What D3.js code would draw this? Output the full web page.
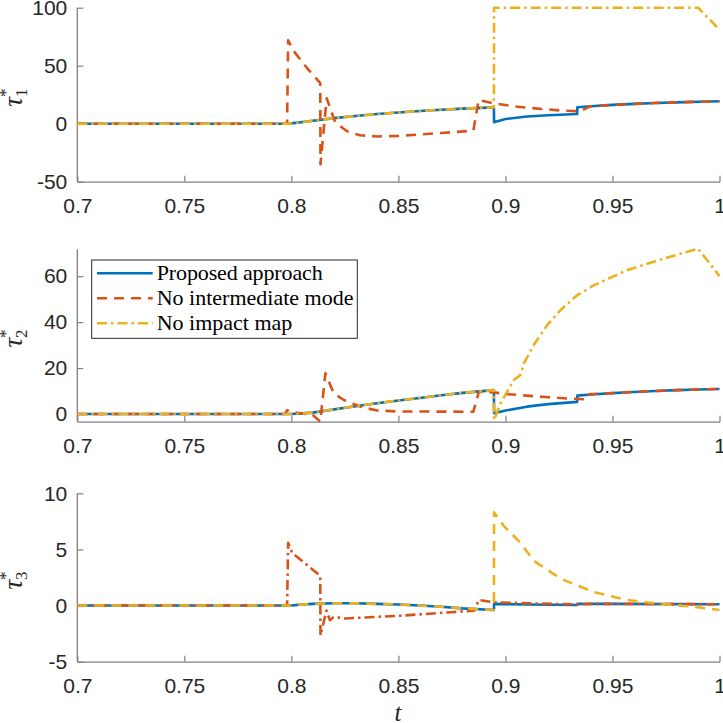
<!DOCTYPE html>
<html>
<head>
<meta charset="utf-8">
<script src="https://cdn.jsdelivr.net/npm/d3@7"></script>
<style>
  html, body { margin: 0; padding: 0; background: #fff; }
  svg { display: block; }
  .tick text { font-family: "Liberation Sans", Arial, sans-serif; font-size: 21px; fill: #262626; }
</style>
</head>
<body>
<svg width="723" height="723"></svg>
<script>
// x ticks shared by all three panels
const xTicks = [0.7, 0.75, 0.8, 0.85, 0.9, 0.95, 1];
const seriesNames = ["Proposed approach", "No intermediate mode", "No impact map"];

// panel 1: tau_1*
const prop1 = [[0.7,0],[0.798,0],[0.80,0.3],[0.81,2.6],[0.82,4.8],[0.83,6.7],[0.84,8.3],[0.85,9.7],[0.86,10.9],[0.87,12],[0.88,13],[0.8946,14.1],
  [0.8947,1.2],[0.90,4],[0.91,6.2],[0.92,7.3],[0.9335,8.4],[0.9336,14.2],[0.94,15],[0.95,16.2],[0.96,17.1],[0.97,17.8],[0.98,18.4],[0.99,18.9],[1.0,19.3]];
const noInter1 = [[0.7,0],[0.798,0],[0.7985,72],[0.8005,64],[0.8073,48],[0.8135,35],[0.8136,-35],[0.8165,22],[0.8205,1],[0.826,-6.5],[0.832,-10],[0.84,-11],
  [0.85,-10.5],[0.86,-9.3],[0.87,-8],[0.885,-6],[0.8875,20.5],[0.8946,17.5],[0.904,15],[0.915,13],[0.925,11.5],[0.935,10.7],[0.9395,15],[0.95,16.2],
  [0.96,17.1],[0.97,17.8],[0.98,18.4],[0.99,18.9],[1.0,19.3]];
const noImpact1 = [[0.7,0],[0.798,0],[0.80,0.3],[0.81,2.6],[0.82,4.8],[0.83,6.7],[0.84,8.3],[0.85,9.7],[0.86,10.9],[0.87,12],[0.88,13],[0.8946,14.1],
  [0.8947,100],[0.99,100],[1.0,81]];

// panel 2: tau_2*
const prop2 = [[0.7,0],[0.8,0],[0.81,0.6],[0.82,2],[0.83,3.4],[0.84,4.7],[0.85,5.9],[0.86,7],[0.87,8.2],[0.88,9.2],[0.8946,10.4],
  [0.8947,0.3],[0.90,1.5],[0.91,3.2],[0.92,4.3],[0.9335,5.3],[0.9336,8],[0.94,8.5],[0.95,9.1],[0.96,9.6],[0.97,10],[0.98,10.4],[0.99,10.7],[1.0,10.9]];
const noInter2 = [[0.7,0],[0.797,0],[0.798,1.7],[0.80,1],[0.805,0.2],[0.81,-0.4],[0.8135,-3.3],[0.8159,17.7],[0.8198,9],[0.8245,6.1],[0.8322,3.2],[0.84,1.5],
  [0.85,1.1],[0.885,1],[0.8876,9.7],[0.8946,9.4],[0.90,8.7],[0.91,8],[0.92,7.3],[0.93,6.7],[0.938,6.4],[0.939,8.6],[0.95,9.1],[0.96,9.6],[0.97,10],
  [0.98,10.4],[0.99,10.7],[1.0,10.9]];
const noImpact2 = [[0.7,0],[0.8,0],[0.81,0.6],[0.82,2],[0.83,3.4],[0.84,4.7],[0.85,5.9],[0.86,7],[0.87,8.2],[0.88,9.2],[0.8946,10.4],
  [0.8947,-2.6],[0.8977,4.6],[0.9039,14.8],[0.907,17],[0.9086,22],[0.9132,30],[0.9195,38.7],[0.9257,45.2],[0.9335,51.7],[0.9413,56],[0.9568,62.6],
  [0.9724,67.2],[0.99,72],[1.0,60]];

// panel 3: tau_3*
const prop3 = [[0.7,0],[0.8,0],[0.805,0.1],[0.81,0.15],[0.82,0.2],[0.83,0.2],[0.84,0.15],[0.85,0.1],[0.86,0],[0.87,-0.1],[0.88,-0.25],[0.8946,-0.4],
  [0.8947,0.15],[0.91,0.1],[0.9335,0.05],[0.9336,0.15],[0.95,0.15],[1.0,0.12]];
const noInter3 = [[0.7,0],[0.798,0],[0.7985,5.6],[0.8003,4.7],[0.8135,2.65],[0.8136,-2.65],[0.8164,-0.45],[0.818,-1.3],[0.8198,-1],[0.825,-1.15],
  [0.851,-0.9],[0.8853,-0.45],[0.8876,0.5],[0.8946,0.3],[0.91,0.2],[0.935,0.1],[0.94,0.15],[1.0,0.12]];
const noImpact3 = [[0.7,0],[0.8,0],[0.805,0.1],[0.81,0.15],[0.82,0.2],[0.83,0.2],[0.84,0.15],[0.85,0.1],[0.86,0],[0.87,-0.1],[0.88,-0.25],[0.8946,-0.4],
  [0.8947,8.3],[0.8992,7.1],[0.907,5.6],[0.9132,4],[0.9257,2.4],[0.9413,1.2],[0.9568,0.5],[0.9724,0.15],[0.988,-0.1],[1.0,-0.4]];

const yTicks1 = [-50, 0, 50, 100];
const yTicks2 = [0, 20, 40, 60];
const yTicks3 = [-5, 0, 5, 10];

const colors = ["#0072BD", "#D95319", "#EDB120"];
const dashes = { solid: null, dash: "10,7", dashdot: "10,4,2.5,4" };

const panels = [
  { top: 7.7, bottom: 181.7, domain: [-50, 100], ticks: yTicks1, sub: "1",
    lines: [[prop1, "solid"], [noInter1, "dash"], [noImpact1, "dashdot"]] },
  { top: 249.3, bottom: 421.7, domain: [-3.35, 71.7], ticks: yTicks2, sub: "2",
    lines: [[prop2, "solid"], [noInter2, "dash"], [noImpact2, "dashdot"]] },
  { top: 493.3, bottom: 661.7, domain: [-5, 10], ticks: yTicks3, sub: "3",
    lines: [[prop3, "solid"], [noInter3, "dashdot"], [noImpact3, "dash"]] }
];

const svg = d3.select("svg");
const x = d3.scaleLinear().domain([0.7, 1]).range([77.3, 719.5]);

panels.forEach((p, i) => {
  const y = d3.scaleLinear().domain(p.domain).range([p.bottom, p.top]);
  const g = svg.append("g");

  // axes (MATLAB style: inward ticks, no box)
  const xAxis = d3.axisBottom(x).tickValues(xTicks).tickSizeInner(-6).tickSizeOuter(0)
    .tickPadding(16).tickFormat(d => String(d));
  const gx = g.append("g").attr("transform", `translate(0,${p.bottom})`).call(xAxis);
  const yAxis = d3.axisLeft(y).tickValues(p.ticks).tickSizeInner(-6).tickSizeOuter(0)
    .tickPadding(10).tickFormat(d => String(d));
  const gy = g.append("g").attr("transform", `translate(${x.range()[0]},0)`).call(yAxis);
  [gx, gy].forEach(a => {
    a.select(".domain").attr("stroke", "#808080").attr("stroke-width", 1.3);
    a.selectAll(".tick line").attr("stroke", "#808080").attr("stroke-width", 1.2);
    a.attr("font-size", null).attr("font-family", null);
  });
  gx.selectAll(".tick text").attr("dy", "0.71em");
  // y axis line should span the full plot height
  gy.select(".domain").attr("d", `M0,${p.bottom}V${p.top}`);

  const line = d3.line().x(d => x(d[0])).y(d => y(d[1]));
  p.lines.forEach(([data, style], k) => {
    g.append("path")
      .datum(data)
      .attr("d", line)
      .attr("fill", "none")
      .attr("stroke", colors[k])
      .attr("stroke-width", 2.6)
      .attr("stroke-linejoin", "round")
      .attr("stroke-dasharray", dashes[style]);
  });

  // y label tau_i^*
  const cy = (p.top + p.bottom) / 2 + 3;
  const lab = svg.append("text")
    .attr("transform", `translate(22,${cy}) rotate(-90)`)
    .attr("text-anchor", "middle")
    .attr("font-family", "Liberation Serif, serif")
    .attr("font-size", 27)
    .attr("fill", "#262626");
  lab.append("tspan").attr("font-style", "italic").text("τ");
  lab.append("tspan").attr("font-size", 17).attr("dy", 5).text(p.sub);
  lab.append("tspan").attr("font-size", 17).attr("dx", -8.5).attr("dy", -16).text("*");
});

// x label
svg.append("text")
  .attr("x", 398).attr("y", 721)
  .attr("text-anchor", "middle")
  .attr("font-family", "Liberation Serif, serif")
  .attr("font-style", "italic")
  .attr("font-size", 25)
  .attr("fill", "#262626")
  .text("t");

// legend in panel 2
const leg = svg.append("g");
leg.append("rect")
  .attr("x", 91.7).attr("y", 260).attr("width", 265.6).attr("height", 78.3)
  .attr("fill", "#fff").attr("stroke", "#262626").attr("stroke-width", 1);
const legStyles = ["solid", "dash", "dashdot"];
seriesNames.forEach((name, k) => {
  const ly = 273.3 + k * 25;
  leg.append("line")
    .attr("x1", 97).attr("x2", 152.7).attr("y1", ly).attr("y2", ly)
    .attr("stroke", colors[k]).attr("stroke-width", 2.6)
    .attr("stroke-dasharray", dashes[legStyles[k]]);
  leg.append("text")
    .attr("x", 156.7).attr("y", ly + 7)
    .attr("font-family", "Liberation Serif, serif")
    .attr("font-size", 22)
    .attr("textLength", name === seriesNames[0] ? 166 : null)
    .attr("fill", "#000")
    .text(name);
});
</script>
</body>
</html>
